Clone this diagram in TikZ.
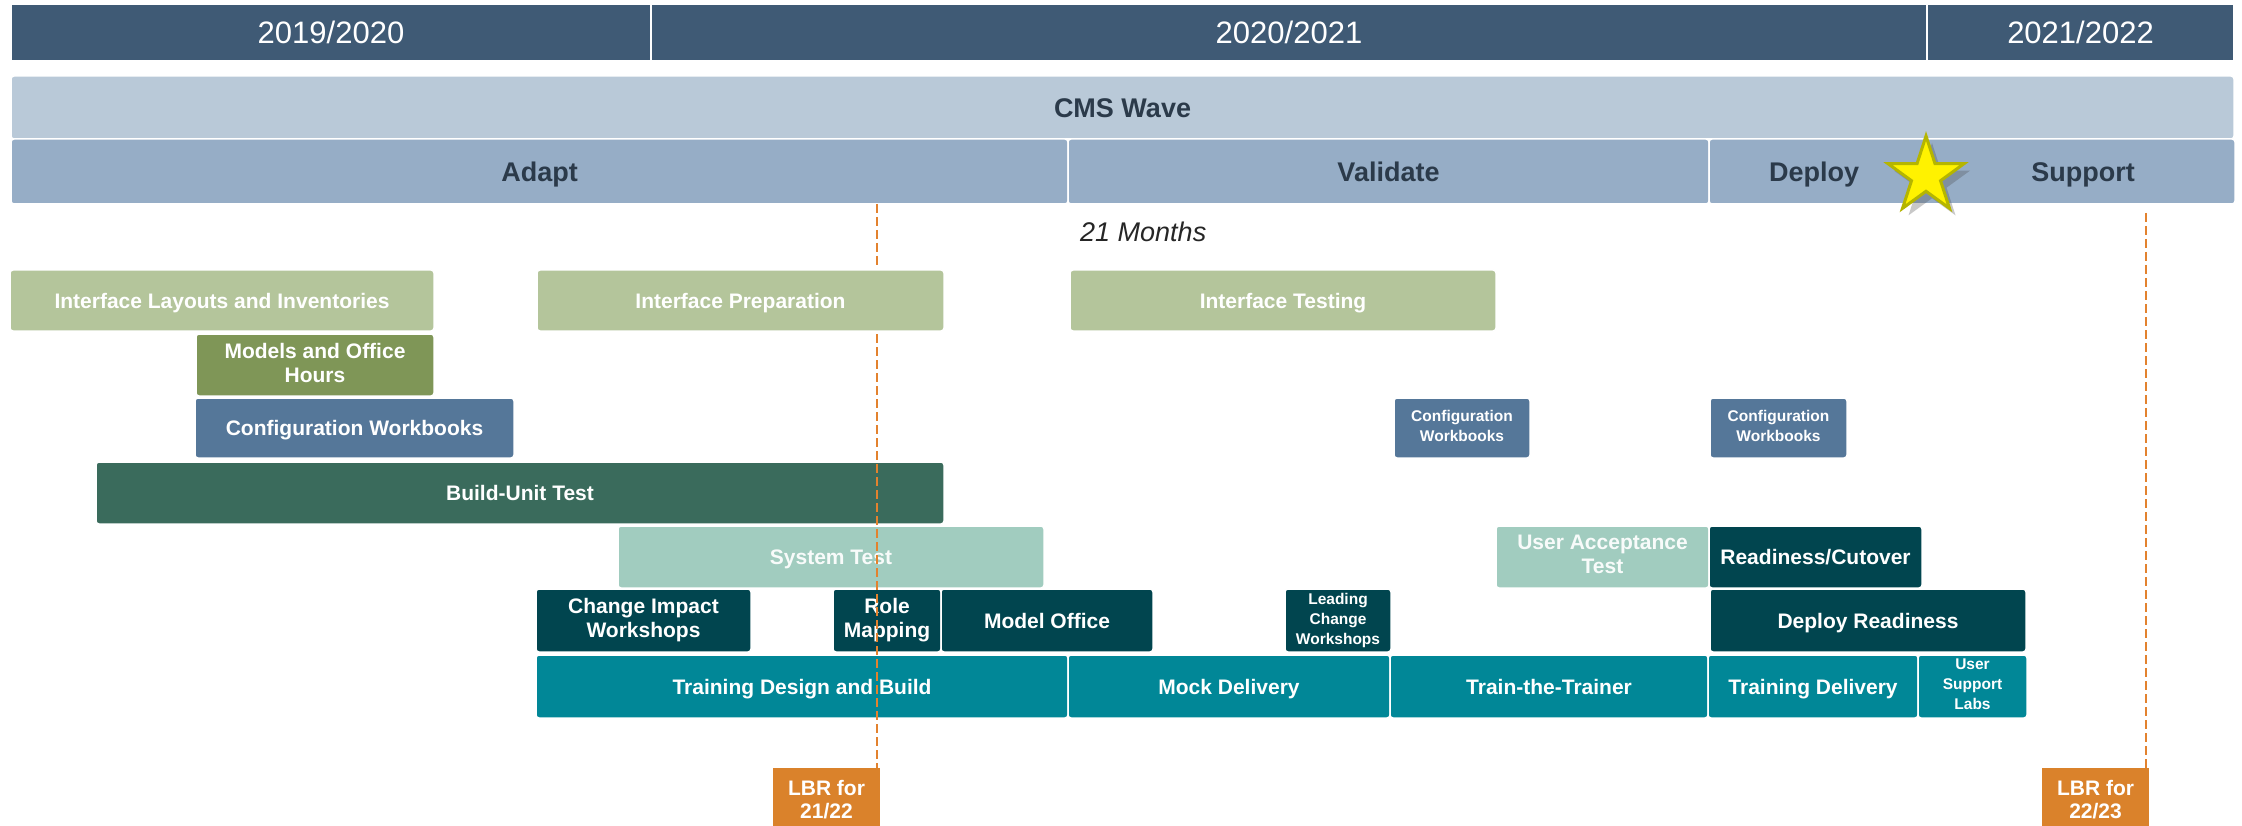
\documentclass[tikz,border=0pt]{standalone}
\usepackage{fontspec}
\setmainfont{Liberation Sans}
\usetikzlibrary{shapes.geometric,shadows}
\definecolor{yearbg}{HTML}{3F5A75}
\definecolor{cmsbg}{HTML}{B9C9D8}
\definecolor{phasebg}{HTML}{96ADC6}
\definecolor{hdrtext}{HTML}{2B3A4A}
\definecolor{ifgreen}{HTML}{B4C59B}
\definecolor{olivegreen}{HTML}{7F9657}
\definecolor{cwblue}{HTML}{557799}
\definecolor{butgreen}{HTML}{3A6B5C}
\definecolor{stgreen}{HTML}{A1CCBF}
\definecolor{darkteal}{HTML}{01454F}
\definecolor{trainteal}{HTML}{018797}
\definecolor{lbrorange}{HTML}{DA822B}
\definecolor{dashorange}{HTML}{E3822E}
\definecolor{startrim}{HTML}{B5B500}
\newcommand\capstrut{\rule[-0.24em]{0pt}{1.2em}}
\newcommand\gbox[7]{\node[#1, minimum width={(#5-#3)*1pt}, minimum height={(#6-#4)*1pt}] (#2) at ({(#3+#5)/2},{(#4+#6)/2}) {#7};}
\begin{document}
\begin{tikzpicture}[x=1pt,y=-1pt,
  base/.style={inner sep=0pt, outer sep=0pt, align=center, execute at begin node={\capstrut}, execute at end node={\capstrut}},
  yearbox/.style={base, fill=yearbg, draw=white, line width=2pt, text=white, font=\fontsize{31}{34}\selectfont},
  hdrbox/.style={base, draw=white, line width=1.5pt, rounded corners=3pt, text=hdrtext, font=\bfseries\fontsize{27}{30}\selectfont},
  hdrtxt/.style={base, text=hdrtext, font=\bfseries\fontsize{27}{30}\selectfont},
  box/.style={base, draw=white, line width=1.5pt, rounded corners=3pt, text=white, font=\bfseries\fontsize{21}{24}\selectfont},
  smallbox/.style={box, font=\bfseries\fontsize{15.5}{20}\selectfont},
  dashline/.style={draw=dashorange, line width=2pt, dash pattern=on 9pt off 4pt}
]
\clip (0,0) rectangle (2242,826);
\fill[white] (0,0) rectangle (2242,826);
% year bar
\gbox{yearbox}{y1}{11}{4}{651}{61}{2019/2020}
\gbox{yearbox}{y2}{651}{4}{1927}{61}{2020/2021}
\gbox{yearbox}{y3}{1927}{4}{2234}{61}{2021/2022}
% CMS wave and phases
\gbox{hdrbox, fill=cmsbg}{cms}{11}{76}{2234}{139}{CMS Wave}
\gbox{hdrbox, fill=phasebg}{adapt}{11}{139}{1068}{204}{Adapt}
\gbox{hdrbox, fill=phasebg}{validate}{1068}{139}{1709}{204}{Validate}
\gbox{hdrbox, fill=phasebg}{dsbar}{1709}{139}{2235}{204}{}
\node[hdrtxt] (deploy) at (1814,172) {Deploy};
\node[hdrtxt] (support) at (2083,172) {Support};
\node[star, star points=5, star point ratio=2.62, minimum size=80pt, inner sep=0pt,
      fill=yellow, draw=startrim, line width=3pt,
      drop shadow={shadow xshift=6pt, shadow yshift=-7pt, opacity=0.3, fill=black!70}] (star) at (1926,176) {};
\node[inner sep=0pt, anchor=base west, text=black!85, font=\itshape\fontsize{27}{30}\selectfont] (months) at (1080,242) {21 Months};
% row 1
\gbox{box, fill=ifgreen}{ilayout}{10}{270}{434}{331}{Interface Layouts and Inventories}
\gbox{box, fill=ifgreen}{itest}{1070}{270}{1496}{331}{Interface Testing}
% row 2
\gbox{box, fill=olivegreen}{moh}{196}{334}{434}{396}{Models and Office\\Hours}
% row 3
\gbox{box, fill=cwblue}{cw1}{195}{398}{514}{458}{Configuration Workbooks}
\gbox{smallbox, fill=cwblue}{cw2}{1394}{398}{1530}{458}{Configuration\\Workbooks}
\gbox{smallbox, fill=cwblue}{cw3}{1710}{398}{1847}{458}{Configuration\\Workbooks}
% row 4
\gbox{box, fill=butgreen}{but}{96}{462}{944}{524}{Build-Unit Test}
% row 5
\gbox{box, fill=stgreen, text=white!93!stgreen}{st}{618}{526}{1044}{588}{System Test}
\gbox{box, fill=stgreen, text=white!93!stgreen}{uat}{1496}{526}{1709}{588}{User Acceptance\\Test}
\gbox{box, fill=darkteal}{rc}{1709}{526}{1922}{588}{Readiness/Cutover}
% row 6
\gbox{box, fill=darkteal}{ciw}{536}{589}{751}{652}{Change Impact\\Workshops}
\gbox{box, fill=darkteal}{rm}{833}{589}{941}{652}{Role\\Mapping}
\gbox{box, fill=darkteal}{mo}{941}{589}{1153}{652}{Model Office}
\gbox{smallbox, fill=darkteal}{lcw}{1285}{589}{1391}{652}{Leading\\Change\\Workshops}
\gbox{box, fill=darkteal}{dr}{1710}{589}{2026}{652}{Deploy Readiness}
% row 7
\gbox{box, fill=trainteal}{tdb}{536}{655}{1068}{718}{Training Design and Build}
\gbox{box, fill=trainteal}{md}{1068}{655}{1390}{718}{Mock Delivery}
\gbox{box, fill=trainteal}{ttt}{1390}{655}{1708}{718}{Train-the-Trainer}
\gbox{box, fill=trainteal}{td}{1708}{655}{1918}{718}{Training Delivery}
\gbox{smallbox, fill=trainteal}{usl}{1918}{655}{2027}{718}{User\\Support\\Labs}
% LBR markers
\gbox{box, fill=lbrorange, rounded corners=0pt, draw=none, font=\bfseries\fontsize{21}{23}\selectfont}{lbr1}{773}{768}{880}{836}{LBR for\\21/22}
\gbox{box, fill=lbrorange, rounded corners=0pt, draw=none, font=\bfseries\fontsize{21}{23}\selectfont}{lbr2}{2042}{768}{2149}{836}{LBR for\\22/23}
% dashed milestone lines
\coordinate (d1top) at (877,204);
\coordinate (d2top) at (2146,213);
\draw[dashline] (d1top) -- (d1top |- lbr1.north);
\draw[dashline] (d2top) -- (d2top |- lbr2.north);
% interface preparation drawn over the dashed line
\gbox{box, fill=ifgreen}{iprep}{537}{270}{944}{331}{Interface Preparation}
\end{tikzpicture}
\end{document}
